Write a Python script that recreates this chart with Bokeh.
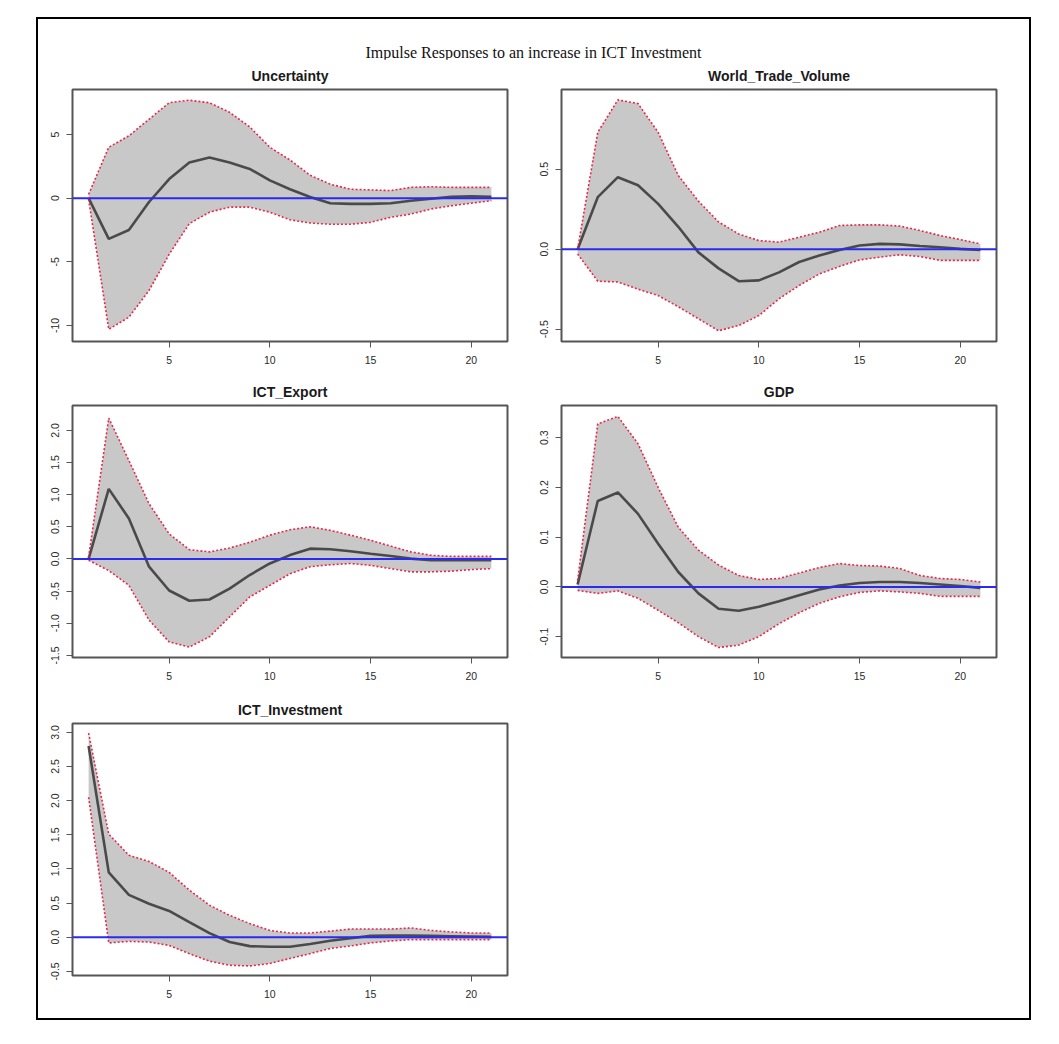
from bokeh.plotting import figure
from bokeh.layouts import column, row
from bokeh.models import Span, FixedTicker, Range1d, Div, Spacer
from bokeh.embed import file_html
from bokeh.resources import INLINE

# ---------------- data ----------------
steps = list(range(1, 22))
x_ticks = [5, 10, 15, 20]

main_title = "Impulse Responses to an increase in ICT Investment"

unc_irf = [0, -3.2, -2.5, -0.3, 1.5, 2.8, 3.2, 2.8, 2.3, 1.4, 0.7, 0.1, -0.4, -0.45, -0.45, -0.4, -0.2, -0.05, 0.1, 0.15, 0.1]
unc_upper = [0.3, 4.0, 4.9, 6.2, 7.5, 7.7, 7.5, 6.75, 5.6, 4.0, 3.0, 1.8, 1.1, 0.7, 0.65, 0.6, 0.85, 0.9, 0.85, 0.85, 0.85]
unc_lower = [-0.1, -10.3, -9.35, -7.25, -4.4, -2.0, -1.1, -0.7, -0.7, -1.1, -1.7, -1.95, -2.05, -2.05, -1.9, -1.5, -1.25, -0.85, -0.6, -0.4, -0.2]
unc_ticks = [-10, -5, 0, 5]
unc_labels = ["-10", "-5", "0", "5"]

wtv_irf = [0, 0.325, 0.45, 0.40, 0.283, 0.14, -0.02, -0.12, -0.2, -0.195, -0.145, -0.08, -0.04, -0.005, 0.023, 0.033, 0.03, 0.02, 0.012, 0.002, -0.005]
wtv_upper = [0, 0.73, 0.933, 0.91, 0.73, 0.46, 0.30, 0.17, 0.095, 0.054, 0.044, 0.075, 0.106, 0.148, 0.152, 0.152, 0.144, 0.117, 0.085, 0.06, 0.033]
wtv_lower = [-0.03, -0.2, -0.205, -0.25, -0.29, -0.36, -0.435, -0.51, -0.477, -0.415, -0.31, -0.227, -0.155, -0.108, -0.067, -0.05, -0.035, -0.046, -0.07, -0.07, -0.07]
wtv_ticks = [-0.5, 0.0, 0.5]
wtv_labels = ["-0.5", "0.0", "0.5"]

exp_irf = [0, 1.09, 0.63, -0.12, -0.49, -0.65, -0.63, -0.46, -0.25, -0.07, 0.06, 0.16, 0.15, 0.12, 0.08, 0.047, 0.005, -0.02, -0.02, -0.02, -0.02]
exp_upper = [0.03, 2.19, 1.53, 0.86, 0.39, 0.145, 0.11, 0.17, 0.26, 0.37, 0.455, 0.5, 0.445, 0.37, 0.29, 0.2, 0.11, 0.057, 0.04, 0.04, 0.04]
exp_lower = [-0.02, -0.18, -0.41, -0.95, -1.29, -1.37, -1.21, -0.9, -0.59, -0.41, -0.23, -0.12, -0.09, -0.07, -0.1, -0.15, -0.2, -0.2, -0.19, -0.165, -0.15]
exp_ticks = [-1.5, -1.0, -0.5, 0.0, 0.5, 1.0, 1.5, 2.0]
exp_labels = ["-1.5", "-1.0", "-0.5", "0.0", "0.5", "1.0", "1.5", "2.0"]

gdp_irf = [0.005, 0.173, 0.19, 0.147, 0.087, 0.03, -0.013, -0.044, -0.048, -0.04, -0.029, -0.017, -0.005, 0.003, 0.008, 0.01, 0.01, 0.008, 0.005, 0.002, -0.002]
gdp_upper = [0.013, 0.328, 0.343, 0.288, 0.2, 0.12, 0.074, 0.044, 0.023, 0.015, 0.017, 0.028, 0.039, 0.047, 0.043, 0.042, 0.037, 0.023, 0.017, 0.015, 0.01]
gdp_lower = [-0.007, -0.013, -0.008, -0.023, -0.047, -0.072, -0.1, -0.122, -0.117, -0.1, -0.074, -0.052, -0.033, -0.02, -0.011, -0.008, -0.01, -0.013, -0.019, -0.019, -0.019]
gdp_ticks = [-0.1, 0.0, 0.1, 0.2, 0.3]
gdp_labels = ["-0.1", "0.0", "0.1", "0.2", "0.3"]

inv_irf = [2.8, 0.95, 0.62, 0.49, 0.385, 0.22, 0.06, -0.07, -0.13, -0.14, -0.14, -0.1, -0.05, -0.015, 0.02, 0.025, 0.025, 0.02, 0.015, 0.01, 0.005]
inv_upper = [2.99, 1.51, 1.2, 1.11, 0.95, 0.69, 0.47, 0.32, 0.2, 0.1, 0.063, 0.063, 0.09, 0.12, 0.12, 0.12, 0.136, 0.1, 0.078, 0.063, 0.063]
inv_lower = [2.05, -0.083, -0.06, -0.07, -0.12, -0.24, -0.35, -0.41, -0.42, -0.385, -0.31, -0.24, -0.165, -0.127, -0.083, -0.054, -0.034, -0.034, -0.034, -0.034, -0.034]
inv_ticks = [-0.5, 0.0, 0.5, 1.0, 1.5, 2.0, 2.5, 3.0]
inv_labels = ["-0.5", "0.0", "0.5", "1.0", "1.5", "2.0", "2.5", "3.0"]

# ---------------- styling / layout ----------------
X_RANGE = (0.2, 21.8)
BAND_FILL = "#c8c8c8"
IRF_COLOR = "#4a4a4a"
CI_COLOR = "#e8284c"
ZERO_COLOR = "#2a2af0"
FRAME_COLOR = "#555555"
TICK_FONT = "Liberation Sans"


def make_panel(name, irf, lower, upper, yticks, ylabels, yrange,
               width, height, bl, br, bt, bb):
    p = figure(width=width, height=height,
               x_range=Range1d(*X_RANGE), y_range=Range1d(*yrange),
               output_backend="svg", toolbar_location=None,
               min_border_left=bl, min_border_right=br,
               min_border_top=bt, min_border_bottom=bb,
               title=name)
    p.title.align = "center"
    p.title.text_font = "Liberation Sans"
    p.title.text_font_size = "14px"
    p.title.text_font_style = "bold"
    p.title.text_color = "#1a1a1a"
    p.title.standoff = 12
    p.grid.visible = False
    p.outline_line_color = FRAME_COLOR
    p.outline_line_width = 2
    p.outline_line_alpha = 1.0
    p.background_fill_color = "white"
    p.border_fill_color = "white"

    p.varea(x=steps, y1=lower, y2=upper, fill_color=BAND_FILL)
    p.line(steps, irf, line_color=IRF_COLOR, line_width=2.6)
    p.line(steps, upper, line_color=CI_COLOR, line_width=1.6, line_dash="2 2")
    p.line(steps, lower, line_color=CI_COLOR, line_width=1.6, line_dash="2 2")
    p.add_layout(Span(location=0, dimension="width", line_color=ZERO_COLOR, line_width=2))

    for ax in (p.xaxis[0], p.yaxis[0]):
        ax.axis_line_color = None
        ax.major_tick_in = 0
        ax.major_tick_out = 6
        ax.major_tick_line_color = FRAME_COLOR
        ax.major_tick_line_width = 1
        ax.minor_tick_line_color = None
        ax.major_label_text_font = TICK_FONT
        ax.major_label_text_font_size = "10.5px"
        ax.major_label_text_color = "#2a2a2a"
    p.xaxis[0].ticker = FixedTicker(ticks=x_ticks)
    p.xaxis[0].major_label_standoff = 8
    p.yaxis[0].ticker = FixedTicker(ticks=yticks)
    p.yaxis[0].major_label_overrides = {t: l for t, l in zip(yticks, ylabels)}
    p.yaxis[0].major_label_orientation = "vertical"
    p.yaxis[0].major_label_standoff = 7
    return p


LW, RW = 489, 502
p1 = make_panel("Uncertainty", unc_irf, unc_lower, unc_upper, unc_ticks, unc_labels,
                (-11.26, 8.54), LW, 316, 34, 20, 30, 34)
p2 = make_panel("World_Trade_Volume", wtv_irf, wtv_lower, wtv_upper, wtv_ticks, wtv_labels,
                (-0.577, 0.998), RW, 316, 34, 33, 30, 34)
p3 = make_panel("ICT_Export", exp_irf, exp_lower, exp_upper, exp_ticks, exp_labels,
                (-1.532, 2.386), LW, 316, 34, 20, 30, 34)
p4 = make_panel("GDP", gdp_irf, gdp_lower, gdp_upper, gdp_ticks, gdp_labels,
                (-0.142, 0.365), RW, 316, 34, 33, 30, 34)
p5 = make_panel("ICT_Investment", inv_irf, inv_lower, inv_upper, inv_ticks, inv_labels,
                (-0.56, 3.13), LW, 327, 34, 20, 32, 43)

title_div = Div(
    text=f'<div style="text-align:center;font-family:\'Liberation Serif\',serif;'
         f'font-size:16px;line-height:18px;color:#111;padding-top:25px;width:991px">{main_title}</div>',
    width=991, height=40, margin=0)

layout = column(
    title_div,
    row(p1, p2),
    row(p3, p4),
    row(p5, Spacer(width=RW, height=327, margin=0)),
    margin=(17, 0, 0, 36),
    styles={"border": "2px solid black"},
)

open("out.html", "w").write(file_html(layout, INLINE))
